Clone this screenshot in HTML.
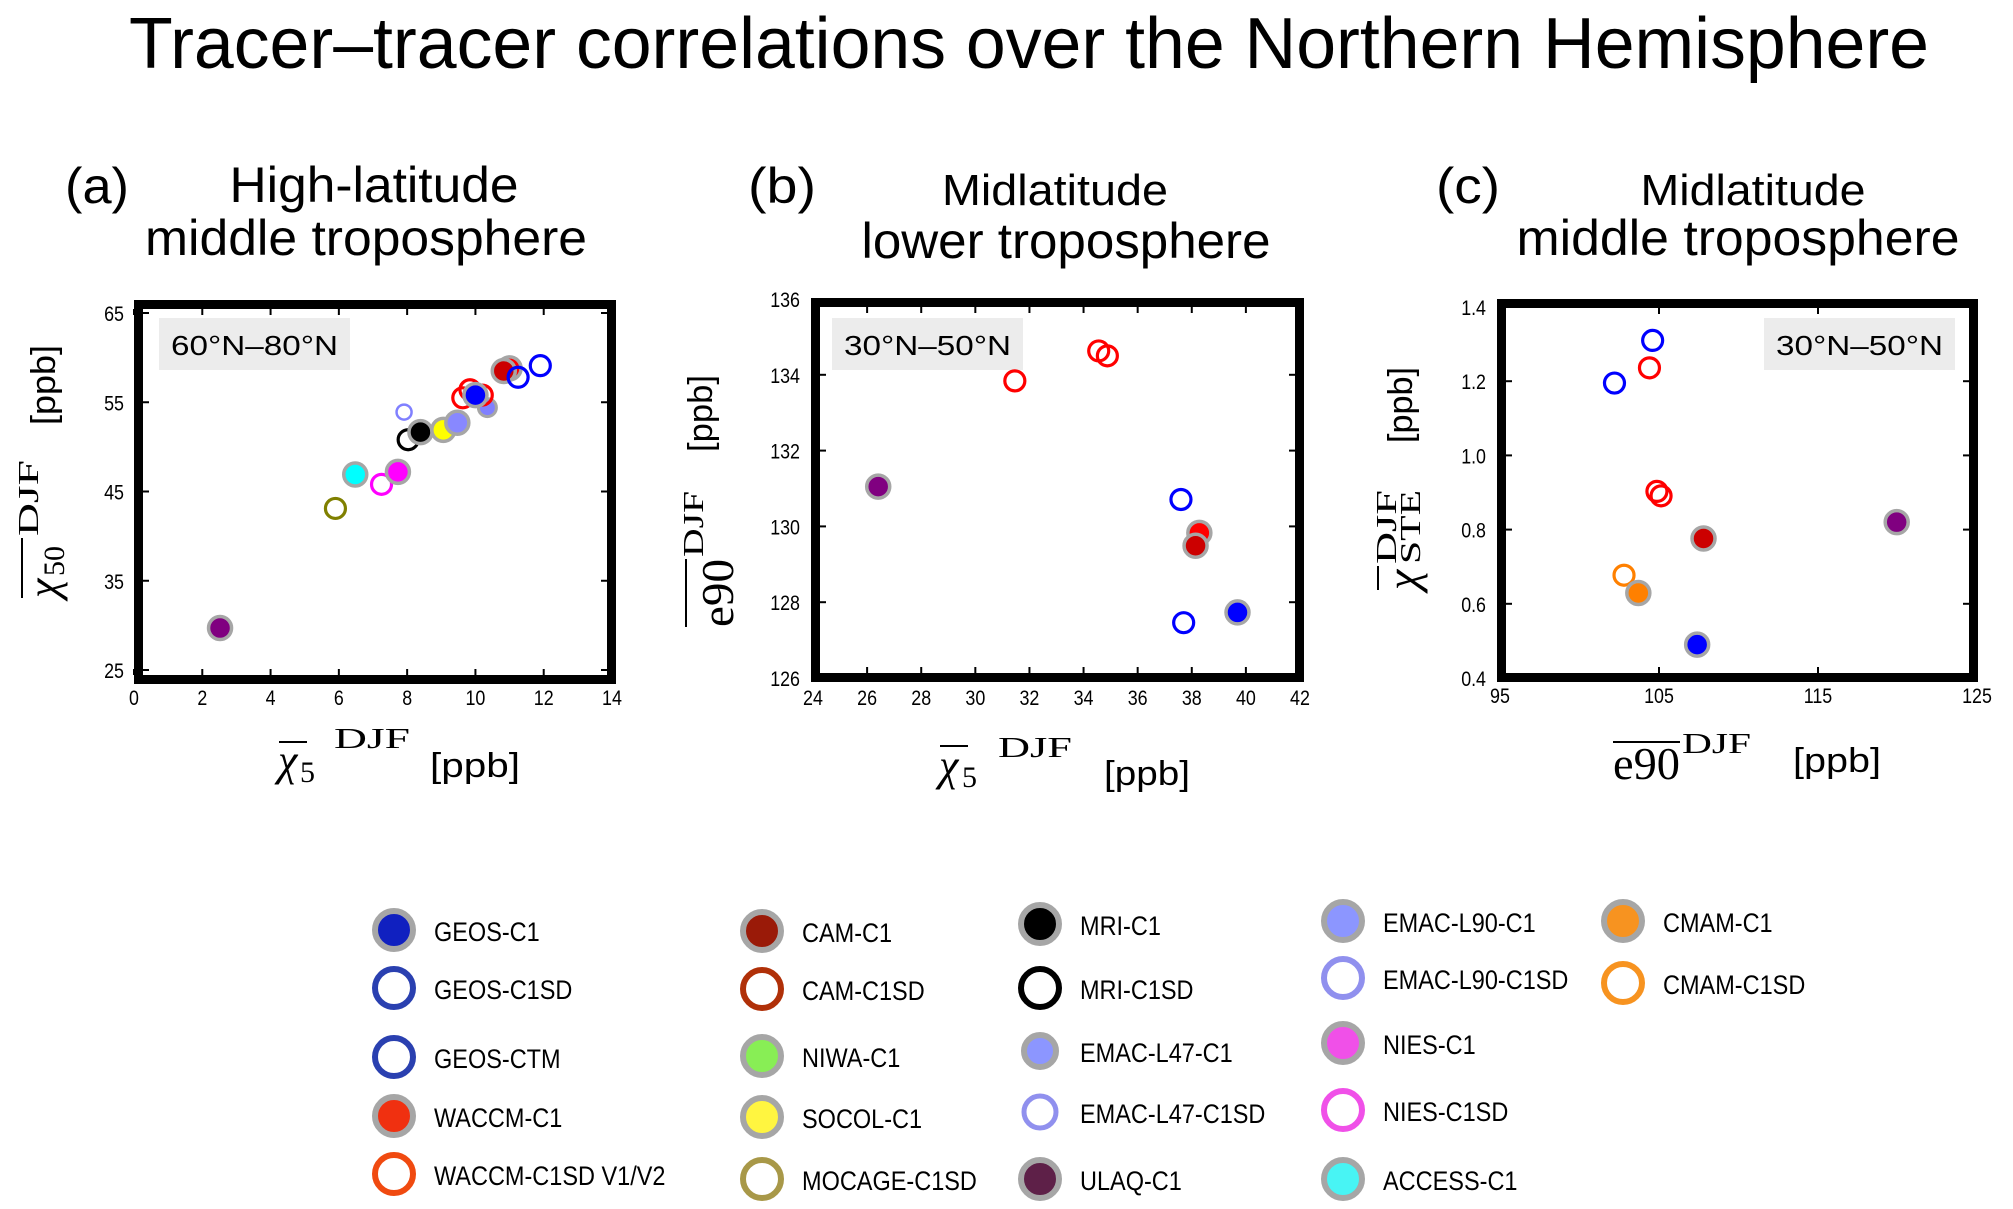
<!DOCTYPE html>
<html><head><meta charset="utf-8"><style>
html,body{margin:0;padding:0;background:#fff}
svg{display:block}
.sans{font-family:"Liberation Sans",sans-serif}
.serif{font-family:"Liberation Serif",serif}
.tick{font-family:"Liberation Sans",sans-serif;font-size:21px;fill:#000}
.leg{font-family:"Liberation Sans",sans-serif;font-size:27px;fill:#000}
</style></head><body>
<svg id="fig" width="2013" height="1209" viewBox="0 0 2013 1209" xmlns="http://www.w3.org/2000/svg">
<text class="sans" x="1029" y="68" font-size="72" text-anchor="middle" textLength="1800" lengthAdjust="spacingAndGlyphs">Tracer–tracer correlations over the Northern Hemisphere</text>

<g>
<text class="sans" x="65" y="203" font-size="50" textLength="64" lengthAdjust="spacingAndGlyphs">(a)</text>
<text class="sans" x="374" y="202" font-size="50" text-anchor="middle" textLength="289" lengthAdjust="spacingAndGlyphs">High-latitude</text>
<text class="sans" x="366" y="255" font-size="50" text-anchor="middle" textLength="442" lengthAdjust="spacingAndGlyphs">middle troposphere</text>
</g>
<g>
<text class="sans" x="748" y="203" font-size="50" textLength="68" lengthAdjust="spacingAndGlyphs">(b)</text>
<text class="sans" x="1055" y="205" font-size="44" text-anchor="middle" textLength="226" lengthAdjust="spacingAndGlyphs">Midlatitude</text>
<text class="sans" x="1066" y="258" font-size="50" text-anchor="middle" textLength="409" lengthAdjust="spacingAndGlyphs">lower troposphere</text>
</g>
<g>
<text class="sans" x="1436" y="203" font-size="50" textLength="64" lengthAdjust="spacingAndGlyphs">(c)</text>
<text class="sans" x="1753" y="205" font-size="44" text-anchor="middle" textLength="225" lengthAdjust="spacingAndGlyphs">Midlatitude</text>
<text class="sans" x="1738" y="255" font-size="50" text-anchor="middle" textLength="443" lengthAdjust="spacingAndGlyphs">middle troposphere</text>
</g>

<g>
<line x1="279" y1="742" x2="307" y2="742" stroke="#000" stroke-width="2"/>
<text class="serif" x="278" y="775" font-size="44" font-style="italic">χ</text>
<text class="serif" x="300" y="782" font-size="30">5</text>
<text class="serif" x="334" y="748" font-size="28" textLength="76" lengthAdjust="spacingAndGlyphs">DJF</text>
<text class="sans" x="430" y="777" font-size="34" textLength="90" lengthAdjust="spacingAndGlyphs">[ppb]</text>
</g>
<g>
<g transform="translate(60,598) rotate(-90)">
<line x1="0" y1="-38" x2="60" y2="-38" stroke="#000" stroke-width="2"/>
<text class="serif" x="0" y="-2" font-size="44" font-style="italic">χ</text>
<text class="serif" x="22" y="4" font-size="30">50</text>
<text class="serif" x="62" y="-22" font-size="28" textLength="76" lengthAdjust="spacingAndGlyphs">DJF</text>
</g>
<text class="sans" font-size="34" transform="translate(55,425) rotate(-90)" textLength="80" lengthAdjust="spacingAndGlyphs">[ppb]</text>
</g>
<g>
<line x1="940" y1="746" x2="968" y2="746" stroke="#000" stroke-width="2"/>
<text class="serif" x="939" y="780" font-size="44" font-style="italic">χ</text>
<text class="serif" x="962" y="787" font-size="30">5</text>
<text class="serif" x="998" y="757" font-size="28" textLength="74" lengthAdjust="spacingAndGlyphs">DJF</text>
<text class="sans" x="1104" y="785" font-size="34" textLength="86" lengthAdjust="spacingAndGlyphs">[ppb]</text>
</g>
<g>
<g transform="translate(733,627) rotate(-90)">
<line x1="0" y1="-47" x2="68" y2="-47" stroke="#000" stroke-width="2"/>
<text class="serif" x="0" y="0" font-size="46" textLength="68" lengthAdjust="spacingAndGlyphs">e90</text>
<text class="serif" x="70" y="-30" font-size="28" textLength="66" lengthAdjust="spacingAndGlyphs">DJF</text>
</g>
<text class="sans" font-size="34" transform="translate(712,452) rotate(-90)" textLength="77" lengthAdjust="spacingAndGlyphs">[ppb]</text>
</g>
<g>
<line x1="1613" y1="742" x2="1680" y2="742" stroke="#000" stroke-width="2"/>
<text class="serif" x="1613" y="779" font-size="46" textLength="67" lengthAdjust="spacingAndGlyphs">e90</text>
<text class="serif" x="1682" y="753" font-size="28" textLength="69" lengthAdjust="spacingAndGlyphs">DJF</text>
<text class="sans" x="1793" y="772" font-size="34" textLength="88" lengthAdjust="spacingAndGlyphs">[ppb]</text>
</g>
<g>
<g transform="translate(1422,590) rotate(-90)">
<line x1="0" y1="-44" x2="24" y2="-44" stroke="#000" stroke-width="2"/>
<text class="serif" x="0" y="-4" font-size="46" font-style="italic">χ</text>
<text class="serif" x="26" y="-2" font-size="28" textLength="74" lengthAdjust="spacingAndGlyphs">STE</text>
<text class="serif" x="26" y="-26" font-size="28" textLength="74" lengthAdjust="spacingAndGlyphs">DJF</text>
</g>
<text class="sans" font-size="34" transform="translate(1412,443) rotate(-90)" textLength="76" lengthAdjust="spacingAndGlyphs">[ppb]</text>
</g>

<g id="plots"></g>
<g id="legend"></g>
</svg>
<script>
const STY = {
  "GEOS-C1":["#0000ff",0],"GEOS-C1SD":["#0000ff",1],"GEOS-CTM":["#0000ff",1],
  "WACCM-C1":["#ff0000",0],"WACCM-C1SD":["#ff0000",1],"CAM-C1":["#cc0000",0],
  "SOCOL-C1":["#ffff00",0],"MOCAGE-C1SD":["#808000",1],"MRI-C1":["#000000",0],"MRI-C1SD":["#000000",1],
  "EMAC-L47-C1":["#8080ff",0],"EMAC-L47-C1SD":["#8080ff",1],"ULAQ-C1":["#800080",0],
  "EMAC-L90-C1":["#8888ff",0],"NIES-C1":["#ff00ff",0],"NIES-C1SD":["#ff00ff",1],
  "ACCESS-C1":["#00ffff",0],"CMAM-C1":["#ff8000",0],"CMAM-C1SD":["#ff8000",1]
};
const aModels = ["ULAQ-C1","MOCAGE-C1SD","ACCESS-C1","NIES-C1SD","NIES-C1","MRI-C1SD","MRI-C1","EMAC-L47-C1SD","SOCOL-C1","EMAC-L90-C1","EMAC-L47-C1","WACCM-C1SD","WACCM-C1SD","WACCM-C1SD","GEOS-C1","WACCM-C1","CAM-C1","GEOS-CTM","GEOS-C1SD"];
const aX = [2.52,5.9,6.48,7.25,7.73,8.03,8.39,7.91,9.06,9.47,10.35,9.63,9.84,10.2,10.0,11.0,10.83,11.25,11.9];
const aY = [29.7,43.1,46.9,45.8,47.2,50.8,51.65,53.9,51.9,52.7,54.4,55.5,56.4,55.8,55.8,58.8,58.5,57.8,59.1];
const aXTicks = [0,2,4,6,8,10,12,14];
const aYTicks = [25,35,45,55,65];
const bModels = ["ULAQ-C1","WACCM-C1SD","WACCM-C1SD","WACCM-C1SD","GEOS-C1SD","GEOS-CTM","WACCM-C1","CAM-C1","GEOS-C1"];
const bX = [26.41,31.46,34.56,34.88,37.6,37.7,38.28,38.14,39.69];
const bY = [131.05,133.84,134.63,134.5,130.71,127.46,129.83,129.49,127.73];
const bXTicks = [24,26,28,30,32,34,36,38,40,42];
const bYTicks = [126,128,130,132,134,136];
const cModels = ["GEOS-C1SD","GEOS-CTM","WACCM-C1SD","WACCM-C1SD","WACCM-C1SD","CAM-C1","ULAQ-C1","CMAM-C1SD","CMAM-C1","GEOS-C1"];
const cX = [104.6,102.2,104.4,104.87,105.13,107.8,119.95,102.8,103.7,107.4];
const cY = [1.31,1.195,1.236,0.903,0.891,0.776,0.82,0.677,0.629,0.49];
const cXTicks = [95,105,115,125];
const cYTicks = [0.4,0.6,0.8,1.0,1.2,1.4];
const cYLabels = ["0.4","0.6","0.8","1.0","1.2","1.4"];

const NS="http://www.w3.org/2000/svg";
function mk(tag,attrs,parent){const e=document.createElementNS(NS,tag);for(const k in attrs)e.setAttribute(k,attrs[k]);parent.appendChild(e);return e;}
function squeeze(t,f){const w=t.getComputedTextLength();if(w>0){t.setAttribute('textLength',(w*f).toFixed(1));t.setAttribute('lengthAdjust','spacingAndGlyphs');}}
const plots=document.getElementById('plots');

function panel(id,cfg){
  const g=mk('g',{},plots);
  
  
  const sx=v=>cfg.px0+(v-cfg.x0)/(cfg.x1-cfg.x0)*(cfg.px1-cfg.px0);
  const sy=v=>cfg.py0+(v-cfg.y0)/(cfg.y1-cfg.y0)*(cfg.py1-cfg.py0);
  const f=cfg.frame;
  const rb=mk('rect',{x:cfg.box[0],y:318,width:cfg.box[1]-cfg.box[0],height:52,fill:'#ececec'},g);
  
  
  const rt=mk('text',{x:(cfg.box[0]+cfg.box[1])/2,y:355,'font-size':28,'text-anchor':'middle',class:'sans',textLength:cfg.box[1]-cfg.box[0]-24,lengthAdjust:'spacingAndGlyphs'},g);
  rt.textContent=cfg.region;
  
  
  cfg.xt.forEach((v,i)=>{
    const x=sx(v);
    mk('line',{x1:x,y1:f[3]-9,x2:x,y2:f[3]-15,stroke:'#000','stroke-width':2},g);
    mk('line',{x1:x,y1:f[1]+9,x2:x,y2:f[1]+15,stroke:'#000','stroke-width':2},g);
    const t=mk('text',{x:x,y:cfg.xly,'text-anchor':'middle',class:'tick'},g);
    t.textContent=cfg.xl?cfg.xl[i]:String(v);
    
    
    squeeze(t,0.85);
  });
  cfg.yt.forEach((v,i)=>{
    const y=sy(v);
    mk('line',{x1:f[0]+9,y1:y,x2:f[0]+15,y2:y,stroke:'#000','stroke-width':2},g);
    mk('line',{x1:f[2]-9,y1:y,x2:f[2]-15,y2:y,stroke:'#000','stroke-width':2},g);
    const t=mk('text',{x:cfg.ylx,y:y+8,'text-anchor':'end',class:'tick'},g);
    t.textContent=cfg.yl?cfg.yl[i]:String(v);
    
    
    squeeze(t,0.85);
  });
  cfg.m.forEach((name,i)=>{
    const s=STY[name];const cx=sx(cfg.xs[i]),cy=sy(cfg.ys[i]);
    const small=(name==='EMAC-L47-C1'||name==='EMAC-L47-C1SD');
    let c;
    if(s[1]){c=mk('circle',{cx:cx,cy:cy,r:small?7.5:10,fill:'none',stroke:s[0],'stroke-width':small?2.5:3.2},g);}
    else{c=mk('circle',{cx:cx,cy:cy,r:small?9:11.5,fill:s[0],stroke:'#a6a6a6','stroke-width':small?3:3.5},g);}
    
    
  });
  const fr=mk('rect',{x:f[0]+4.5,y:f[1]+4.5,width:f[2]-f[0]-9,height:f[3]-f[1]-9,fill:'none',stroke:'#000','stroke-width':9},g);
  
  
}
panel('a',{m:aModels,xs:aX,ys:aY,x0:0,x1:14,px0:134,px1:612,y0:65,y1:25,py0:313,py1:670,frame:[134,300,616,684],xt:aXTicks,yt:aYTicks,xly:705,ylx:124,box:[159,350],region:'60°N–80°N'});
panel('b',{m:bModels,xs:bX,ys:bY,x0:24,x1:42,px0:813,px1:1300,y0:136,y1:126,py0:299,py1:678,frame:[811,298,1304,682],xt:bXTicks,yt:bYTicks,xly:705,ylx:800,box:[832,1023],region:'30°N–50°N'});
panel('c',{m:cModels,xs:cX,ys:cY,x0:95,x1:125,px0:1500,px1:1977,y0:1.4,y1:0.4,py0:307,py1:678,frame:[1497,299,1978,682],xt:cXTicks,yt:cYTicks,yl:cYLabels,xly:703,ylx:1486,box:[1764,1955],region:'30°N–50°N'});

const legNames=["GEOS-C1","GEOS-C1SD","GEOS-CTM","WACCM-C1","WACCM-C1SD  V1/V2","CAM-C1","CAM-C1SD","NIWA-C1","SOCOL-C1","MOCAGE-C1SD","MRI-C1","MRI-C1SD","EMAC-L47-C1","EMAC-L47-C1SD","ULAQ-C1","EMAC-L90-C1","EMAC-L90-C1SD","NIES-C1","NIES-C1SD","ACCESS-C1","CMAM-C1","CMAM-C1SD"];
const legCol=["#1020c0","#2a40b0","#2a40b0","#f03010","#f04a10","#9a1a08","#b03008","#88ee55","#fff540","#a89848","#000000","#000000","#8c96ff","#9090ee","#5e2048","#8c96ff","#9090ee","#f050e8","#f050e8","#48f4f4","#f79320","#f79320"];
const legOpen=[0,1,1,0,1,0,1,0,0,1,0,1,0,1,0,0,1,0,1,0,0,1];
const legMX=[394,394,394,394,394,762,762,762,762,762,1040,1040,1040,1040,1040,1343,1343,1343,1343,1343,1623,1623];
const legY=[930,988,1057,1116,1174,931,989,1056,1117,1179,924,988,1051,1112,1179,921,978,1043,1110,1179,921,983];
const leg=document.getElementById('legend');
legNames.forEach((n,i)=>{
  const g=mk('g',{},leg);
  
  
  const small=(n.indexOf('EMAC-L47')===0);
  const r=small?16:19;
  if(legOpen[i]) mk('circle',{cx:legMX[i],cy:legY[i],r:r,fill:'#fff',stroke:legCol[i],'stroke-width':small?5:6},g);
  else mk('circle',{cx:legMX[i],cy:legY[i],r:r,fill:legCol[i],stroke:'#a6a6a6','stroke-width':6},g);
  const t=mk('text',{x:legMX[i]+40,y:legY[i]+11,class:'leg'},g);
  t.setAttribute('xml:space','preserve');
  t.textContent=n;
  squeeze(t,0.87);
});
</script>
</body></html>
